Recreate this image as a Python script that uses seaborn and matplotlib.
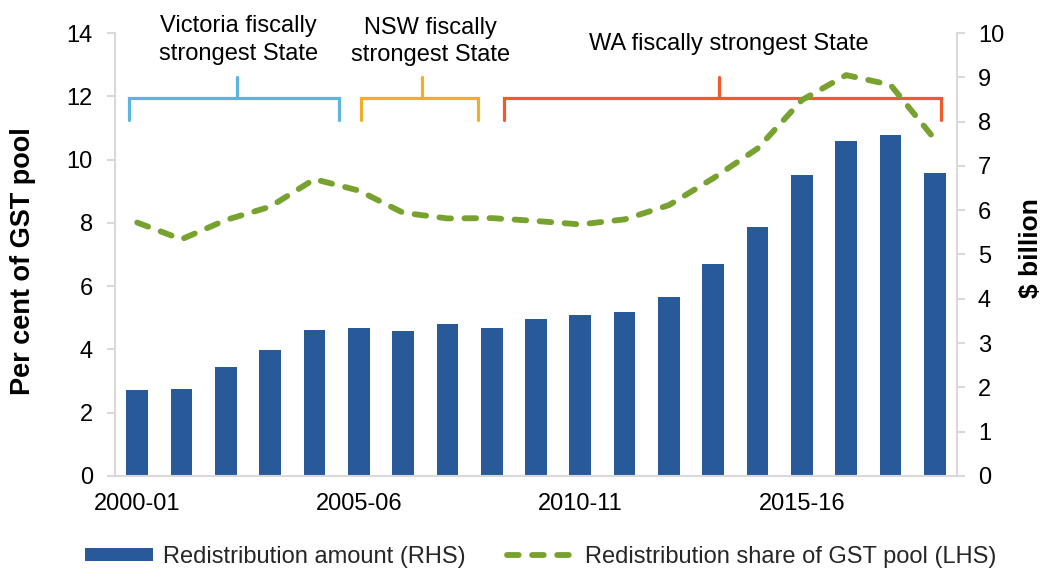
import numpy as np
import pandas as pd
import matplotlib
matplotlib.use("Agg")
import matplotlib.pyplot as plt
import seaborn as sns

sns.set_theme(style="white")
plt.rcParams['font.family'] = ['Liberation Sans', 'DejaVu Sans']

# financial years
years = ['2000-01', '2001-02', '2002-03', '2003-04', '2004-05', '2005-06',
         '2006-07', '2007-08', '2008-09', '2009-10', '2010-11', '2011-12',
         '2012-13', '2013-14', '2014-15', '2015-16', '2016-17', '2017-18',
         '2018-19']
# redistribution amount, $ billion (RHS)
amount = [1.93, 1.97, 2.45, 2.84, 3.30, 3.35, 3.27, 3.42, 3.35, 3.54,
          3.64, 3.70, 4.04, 4.78, 5.62, 6.79, 7.56, 7.69, 6.83]
# redistribution share of GST pool, per cent (LHS)
share = [8.01, 7.48, 8.09, 8.51, 9.38, 9.02, 8.32, 8.14, 8.15, 8.06,
         7.95, 8.11, 8.56, 9.41, 10.35, 11.88, 12.67, 12.36, 10.64]

tick_years = ['2000-01', '2005-06', '2010-11', '2015-16']
period_labels = ['Victoria fiscally\nstrongest State', 'NSW fiscally\nstrongest State',
                 'WA fiscally strongest State']

df = pd.DataFrame({'year': years, 'amount': amount, 'share': share})

bar_color = '#285A9A'
line_color = '#78A22F'
grey = '#D9D9D9'
fs = 17

fig, ax = plt.subplots(figsize=(10.42, 5.68), dpi=100)
fig.subplots_adjust(left=0.1104, right=0.9184, bottom=0.162, top=0.9419)
ax2 = ax.twinx()

sns.barplot(data=df, x='year', y='amount', ax=ax2, color=bar_color,
            saturation=1, width=0.49, edgecolor='none')
sns.lineplot(x=df.index, y=df['share'], ax=ax, color=line_color, linewidth=4.2,
             linestyle=(0, (2.0, 2.3)), dash_capstyle='round', zorder=5)

# line on top of bars
ax.set_zorder(ax2.get_zorder() + 1)
ax.patch.set_visible(False)

ax.set_xlim(-0.5, len(years) - 0.5)
ax.set_ylim(0, 14)
ax.set_yticks(np.arange(0, 15, 2))
ax2.set_ylim(0, 10)
ax2.set_yticks(np.arange(0, 11, 1))
ax.set_xticks([years.index(y) for y in tick_years], labels=tick_years)

ax.set_xlabel('')
ax2.set_xlabel('')
ax.set_ylabel('Per cent of GST pool', fontsize=19.5, fontweight='bold', color='black')
ax2.set_ylabel('$ billion', fontsize=19, fontweight='bold', color='black')
ax.yaxis.set_label_coords(-0.094, 0.485)
ax2.yaxis.set_label_coords(1.074, 0.515)

for a in (ax, ax2):
    for s in a.spines.values():
        s.set_visible(False)
ax.spines['left'].set_visible(True)
ax.spines['bottom'].set_visible(True)
ax2.spines['right'].set_visible(True)
for s in (ax.spines['left'], ax.spines['bottom'], ax2.spines['right']):
    s.set_color(grey)
    s.set_linewidth(1.5)

ax.tick_params(axis='y', left=True, length=6, width=1.5, color=grey, pad=10,
               labelsize=fs, labelcolor='black')
ax.tick_params(axis='x', bottom=True, length=0, pad=12, labelsize=fs, labelcolor='black')
ax2.tick_params(axis='y', right=True, length=6, width=1.5, color=grey, pad=9,
                labelsize=fs, labelcolor='black')

# brackets marking fiscally strongest State
brackets = [
    # x0, x1, tick x, colour, text x, text y
    (-0.18, 4.56, 2.26, '#5BB5DF', 2.29, 13.78),
    (5.06, 7.69, 6.42, '#F2AE2A', 6.61, 13.72),
    (8.27, 18.13, 13.12, '#F4592A', 13.35, 13.65),
]
y_bar, y_end, y_top = 11.95, 11.25, 12.6
for (x0, x1, xc, col, tx, ty), lab in zip(brackets, period_labels):
    ax.plot([x0, x0, x1, x1], [y_end, y_bar, y_bar, y_end], color=col, lw=2.3,
            solid_joinstyle='miter', zorder=3, clip_on=False)
    ax.plot([xc, xc], [y_bar, y_top], color=col, lw=2.3, zorder=3, clip_on=False)
    ax.text(tx, ty, lab, ha='center', va='center', fontsize=fs, color='black',
            linespacing=1.3, clip_on=False)

handles = [ax2.containers[0], ax.lines[0]]
labels = ['Redistribution amount (RHS)', 'Redistribution share of GST pool (LHS)']
fig.legend(handles, labels, loc='center', bbox_to_anchor=(0.519, 0.02), ncol=2,
           frameon=False, fontsize=fs, handlelength=2.84, handleheight=0.5,
           handletextpad=0.45, columnspacing=1.75, borderpad=0)

fig.savefig('out.png', dpi=100)
